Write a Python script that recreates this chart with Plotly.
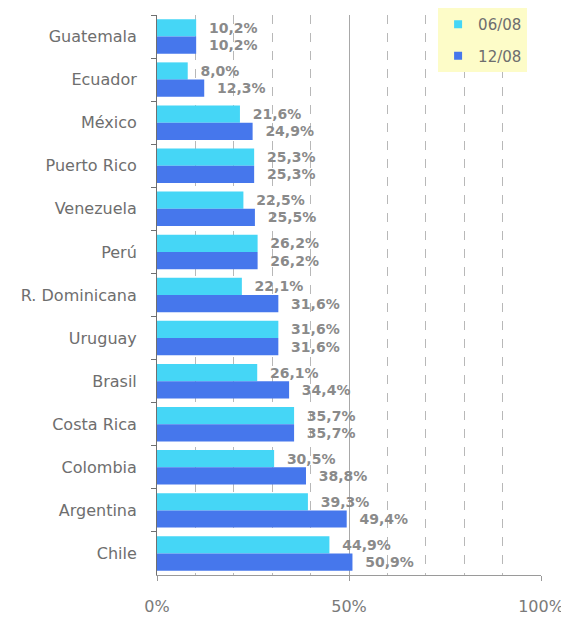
import plotly.graph_objects as go

countries = ["Guatemala", "Ecuador", "México", "Puerto Rico", "Venezuela", "Perú",
             "R. Dominicana", "Uruguay", "Brasil", "Costa Rica", "Colombia",
             "Argentina", "Chile"]
jun08 = [10.2, 8.0, 21.6, 25.3, 22.5, 26.2, 22.1, 31.6, 26.1, 35.7, 30.5, 39.3, 44.9]
dec08 = [10.2, 12.3, 24.9, 25.3, 25.5, 26.2, 31.6, 31.6, 34.4, 35.7, 38.8, 49.4, 50.9]
series_names = ["06/08", "12/08"]
x_ticks = [0, 50, 100]
x_tick_labels = ["0%", "50%", "100%"]

C1 = "#45D6F6"
C2 = "#4677EC"
LABEL_COLOR = "#8A8A8A"


def fmt(v):
    return "\u00a0\u00a0" + f"{v:.1f}".replace(".", ",") + "%"


fig = go.Figure()
for name, vals, col in [(series_names[0], jun08, C1), (series_names[1], dec08, C2)]:
    fig.add_trace(go.Bar(
        y=countries, x=vals, orientation="h", name=name,
        marker=dict(color=col, line=dict(width=0)),
        text=[fmt(v) for v in vals], textposition="outside",
        textfont=dict(family="DejaVu Sans", size=14, color=LABEL_COLOR, weight="bold"),
        constraintext="none", cliponaxis=False, showlegend=False,
    ))
# legend entries with small square markers
for i, (name, col) in enumerate([(series_names[0], C1), (series_names[1], C2)]):
    fig.add_trace(go.Scatter(
        x=[None], y=[None], mode="markers", name=name, legendgroup=f"g{i}",
        marker=dict(symbol="square", size=8, color=col),
    ))

fig.update_layout(
    width=569, height=618,
    margin=dict(l=149, r=36, t=7, b=51, autoexpand=False),
    paper_bgcolor="white", plot_bgcolor="white",
    barmode="group", bargap=0.2, bargroupgap=0,
    font=dict(family="DejaVu Sans", color="#6E6E6E"),
    legend=dict(
        x=0.732, y=1.0125, xanchor="left", yanchor="top",
        bgcolor="#FDFCC8", borderwidth=0,
        font=dict(family="DejaVu Sans", size=15, color="#6E6E6E"),
        tracegroupgap=9, itemwidth=30,
    ),
    xaxis=dict(
        range=[0, 100], tickmode="array", tickvals=x_ticks, ticktext=x_tick_labels,
        tickfont=dict(family="DejaVu Sans", size=16, color="#7A7A7A"),
        ticks="outside", ticklen=5, tickcolor="#9A9A9A",
        showline=True, linecolor="#9A9A9A", linewidth=1,
        showgrid=True, gridcolor="#A8A8A8", gridwidth=1,
        zeroline=False, ticklabelstandoff=12, automargin=False,
        minor=dict(dtick=10, showgrid=True, gridcolor="#B8B8B8", griddash="dash", gridwidth=1),
        fixedrange=True,
    ),
    yaxis=dict(
        categoryorder="array", categoryarray=countries, autorange="reversed",
        tickfont=dict(family="DejaVu Sans", size=16, color="#6E6E6E"),
        ticks="outside", tickson="boundaries", ticklen=5, tickcolor="#707070",
        showline=True, linecolor="#707070", linewidth=1,
        showgrid=False, ticklabelstandoff=16, automargin=False,
    ),
)

fig.write_html("out.html")
